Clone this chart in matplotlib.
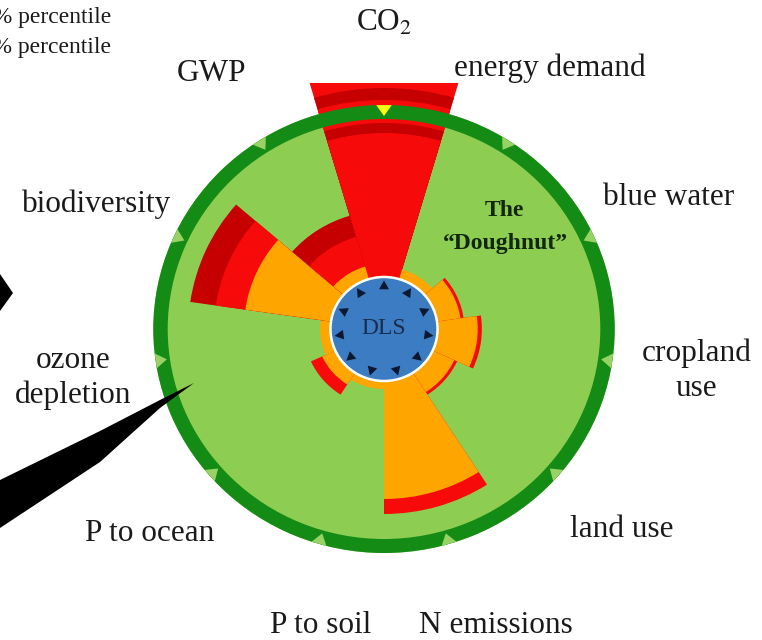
import numpy as np
import matplotlib
matplotlib.use('Agg')
import matplotlib.pyplot as plt
from matplotlib.patches import Wedge, Circle, Polygon, Rectangle

plt.rcParams['mathtext.fontset'] = 'stix'

# ---------------- data ----------------
categories = ['CO$_2$', 'energy demand', 'blue water', 'cropland\nuse', 'land use',
              'N emissions', 'P to soil', 'P to ocean', 'ozone\ndepletion',
              'biodiversity', 'GWP']
# radial extent of each layer (boundary inner edge = 210, DLS core = 52)
orange_extent = [0, 62, 75, 91, 75, 170, 60, 66, 62, 136, 65]
red_extent = [196, 0, 78, 95, 78, 185, 0, 78, 0, 165, 96]
darkred_extent = [0, 0, 0, 0, 0, 0, 0, 0, 0, 190, 118]
# CO2 overshoot (layers from outside in)
co2_layers_r = [270, 241, 229, 206]
co2_layers_c = ['red', 'dark', 'red', 'dark']
boundary_marker = ['yellow'] + ['light'] * 10

# ---------------- style ----------------
C = {'red': '#f70a0a', 'dark': '#c60000', 'orange': '#ffa500',
     'light': '#98d264', 'yellow': '#ffff10'}
GREEN_LIGHT = '#8dcd52'
GREEN_DARK = '#148b14'
BLUE = '#3b7cc2'
CX, CY, SX = 384, 329, 1.03      # centre (px) and horizontal stretch
W, H = 762, 640
R_CORE, R_IN, R_OUT = 52, 210, 224

fig = plt.figure(figsize=(W / 100, H / 100), dpi=100)
ax = fig.add_axes([0, 0, 1, 1])
ax.set_xlim(-CX / SX, (W - CX) / SX)
ax.set_ylim(-(H - CY), CY)
ax.axis('off')


def px(x, y):
    return ((x - CX) / SX, CY - y)


n = len(categories)
step = 360.0 / n
centers = [90 - i * step for i in range(n)]

# disc
ax.add_patch(Circle((0, 0), R_OUT, facecolor=GREEN_LIGHT, edgecolor='none', zorder=1))

for i, a in enumerate(centers):
    t1, t2 = a - step / 2, a + step / 2
    if i == 0:
        for r, c in zip(co2_layers_r, co2_layers_c):
            w = ax.add_patch(Wedge((0, 0), r, t1, t2, facecolor=C[c],
                                   edgecolor='none', zorder=2))
            clip = Rectangle((-500, -500), 1000, 500 + (CY - 83),
                             transform=ax.transData)
            w.set_clip_path(clip)
    for r, c in ((darkred_extent[i], 'dark'), (red_extent[i], 'red'),
                 (orange_extent[i], 'orange')):
        if r > 0:
            ax.add_patch(Wedge((0, 0), r, t1, t2, facecolor=C[c],
                               edgecolor='none', zorder=2))

# boundary ring
ax.add_patch(Wedge((0, 0), R_OUT, 0, 360, width=R_OUT - R_IN,
                   facecolor=GREEN_DARK, edgecolor='none', zorder=3))
for a, m in zip(centers, boundary_marker):
    d = np.degrees(7.5 / R_OUT)
    pts = [(R_OUT * np.cos(np.radians(a - d)), R_OUT * np.sin(np.radians(a - d))),
           (R_OUT * np.cos(np.radians(a + d)), R_OUT * np.sin(np.radians(a + d))),
           ((R_IN + 3) * np.cos(np.radians(a)), (R_IN + 3) * np.sin(np.radians(a)))]
    ax.add_patch(Polygon(pts, closed=True, facecolor=C[m], edgecolor='none', zorder=4))

# DLS core
ax.add_patch(Circle((0, 0), R_CORE, facecolor=BLUE, edgecolor='white', lw=1.8, zorder=5))
for a in centers:
    d = np.degrees(4.8 / 40)
    pts = [(40 * np.cos(np.radians(a - d)), 40 * np.sin(np.radians(a - d))),
           (40 * np.cos(np.radians(a + d)), 40 * np.sin(np.radians(a + d))),
           (48.5 * np.cos(np.radians(a)), 48.5 * np.sin(np.radians(a)))]
    ax.add_patch(Polygon(pts, closed=True, facecolor='#0b1830', edgecolor='none', zorder=6))
ax.text(0, 1, 'DLS', family='Liberation Serif', fontsize=17, color='#1b2c4e',
        ha='center', va='center', zorder=7)

ax.text(*px(504, 211), 'The', family='Liberation Serif', fontweight='bold',
        fontsize=17, color='#13260f', ha='center', va='center', zorder=7)
ax.text(*px(505, 243), '\u201cDoughnut\u201d', family='Liberation Serif', fontweight='bold',
        fontsize=17, color='#13260f', ha='center', va='center', zorder=7)

# black arrow shapes (parts of surrounding figure)
chevron = [px(0, 274), px(13, 293), px(0, 311)]
needle = [px(194, 383), px(160, 400), px(100, 431), px(0, 480),
          px(0, 528), px(100, 462), px(160, 408)]
ax.add_patch(Polygon(chevron, closed=True, facecolor='black', edgecolor='none', zorder=8))
ax.add_patch(Polygon(needle, closed=True, facecolor='black', edgecolor='none', zorder=8))

# labels
label_r = [306, 306, 306, 306, 306, 316, 303, 306, 306, 306, 306]
label_shift = [0, 1, 1, 0.3, 0, 3.8, 4.6, 1, 1, 0.5, 0.5]
for lab, a, s, lr in zip(categories, centers, label_shift, label_r):
    t = np.radians(a + s)
    ax.text(lr * np.cos(t), lr * np.sin(t), lab, family='Liberation Serif',
            fontsize=22.5, color='#1a1a1a', ha='center', va='center',
            linespacing=1.25, zorder=9)

# cut-off legend
for y, lab in ((18, '5% percentile'), (47, '95% percentile')):
    ax.text(*px(111, y), lab, family='Liberation Serif', fontsize=17,
            color='#1a1a1a', ha='right', va='center', zorder=9)

fig.savefig('out.png', dpi=100, facecolor='white')
